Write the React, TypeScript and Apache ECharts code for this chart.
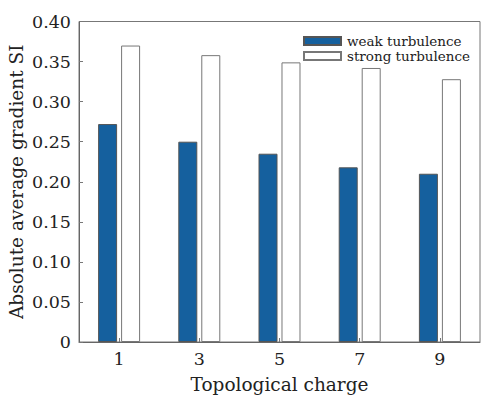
import React, { useEffect, useRef } from "react";
import * as echarts from "echarts";

const categories = ["1", "3", "5", "7", "9"];
const weakValues = [0.272, 0.25, 0.235, 0.218, 0.21];
const strongValues = [0.37, 0.358, 0.349, 0.342, 0.328];
const seriesNames = ["weak turbulence", "strong turbulence"];

const FONT = "DejaVu Serif";

export default function App() {
  const ref = useRef<HTMLDivElement>(null);
  useEffect(() => {
    if (!ref.current) return;
    const chart = echarts.init(ref.current, undefined, { renderer: "svg" });
    chart.setOption({
      animation: false,
      textStyle: { fontFamily: FONT },
      grid: {
        left: 79,
        right: 1,
        top: 21.5,
        bottom: 53,
        show: true,
        borderColor: "#777",
        borderWidth: 1,
        containLabel: false,
        outerBoundsMode: "none",
      },
      legend: {
        orient: "vertical",
        left: 298,
        top: 29,
        itemWidth: 37,
        itemHeight: 8,
        itemGap: 1,
        icon: "rect",
        data: seriesNames,
        textStyle: { fontFamily: FONT, fontSize: 13.5, lineHeight: 13, color: "#222", padding: [0, 0, 0, 1] },
      },
      xAxis: {
        type: "category",
        data: categories,
        name: "Topological charge",
        nameLocation: "middle",
        nameGap: 33,
        nameMoveOverlap: false,
        nameTextStyle: { fontFamily: FONT, fontSize: 18.5, color: "#222" },
        axisLine: { show: true, lineStyle: { color: "#666", width: 1 } },
        axisTick: { show: true, inside: true, alignWithLabel: true, length: 4, lineStyle: { color: "#777" } },
        axisLabel: { fontFamily: FONT, fontSize: 17.5, color: "#222", margin: 8 },
      },
      yAxis: {
        type: "value",
        min: 0,
        max: 0.4,
        interval: 0.05,
        name: "Absolute average gradient SI",
        nameLocation: "middle",
        nameGap: 53,
        nameMoveOverlap: false,
        nameTextStyle: { fontFamily: FONT, fontSize: 18.5, color: "#222" },
        axisLine: { show: true, lineStyle: { color: "#666", width: 1 } },
        axisTick: { show: true, inside: true, length: 4, lineStyle: { color: "#777" } },
        splitLine: { show: false },
        axisLabel: {
          fontFamily: FONT,
          fontSize: 17.5,
          color: "#222",
          margin: 8,
          formatter: (v: number) => (v === 0 ? "0" : v.toFixed(2)),
        },
      },
      series: [
        {
          name: seriesNames[0],
          type: "bar",
          data: weakValues,
          barWidth: 19,
          barGap: "21%",
          itemStyle: { color: "#15609E", borderColor: "#555", borderWidth: 1 },
        },
        {
          name: seriesNames[1],
          type: "bar",
          data: strongValues,
          barWidth: 19,
          itemStyle: { color: "#ffffff", borderColor: "#777", borderWidth: 1 },
        },
      ],
    });
    return () => chart.dispose();
  }, []);
  return <div ref={ref} style={{ width: 481, height: 395, position: "absolute", left: 0, top: 0 }} />;
}
